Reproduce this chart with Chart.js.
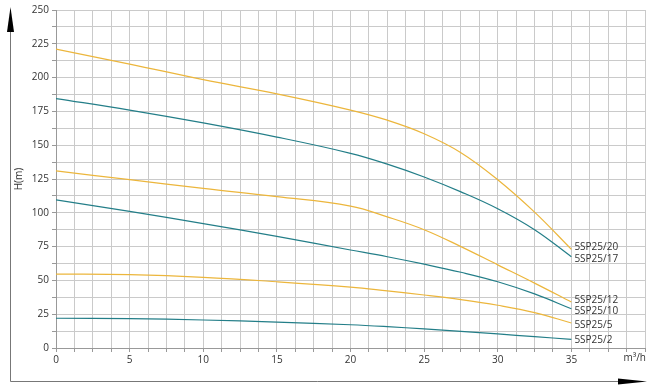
<!DOCTYPE html>
<html lang="en">
<head>
    <meta charset="UTF-8">
    <title>5SP25 pump curves</title>
    <style>
        body {
            margin: 0;
            padding: 0;
            background: #fff;
        }

        .container {
            width: 659px;
            height: 387px;
            position: relative;
        }
    </style>
</head>
<body>
    <div class="container">
        <canvas id="pumpChart" width="659" height="387"></canvas>
    </div>
    <script src="https://cdn.jsdelivr.net/npm/chart.js"></script>
    <script>
        // flow rate Q (m3/h)
        const flow = [0, 5, 10, 15, 20, 22.5, 25, 27.5, 30, 32.5, 35];

        // head H (m) for each model
        const head20 = [221, 210, 198.5, 188, 176, 168.5, 158.5, 144.5, 124.5, 100.5, 73];
        const head17 = [184.5, 176, 166.5, 156, 144, 136, 126.5, 115.5, 103, 87.5, 67.5];
        const head12 = [131, 124.5, 118, 112, 105, 97, 87.5, 75, 61.5, 48, 34];
        const head10 = [109.5, 101, 92, 82.5, 72.5, 67.5, 62, 56, 49, 40, 29];
        const head5 = [54.7, 54.2, 52.3, 49, 45, 42.2, 39.2, 35.8, 31.6, 26.2, 18.5];
        const head2 = [22, 21.7, 20.7, 19.2, 17.2, 15.8, 14.1, 12.3, 10.4, 8.4, 6.4];

        const models = ['5SP25/20', '5SP25/17', '5SP25/12', '5SP25/10', '5SP25/5', '5SP25/2'];
        const heads = [head20, head17, head12, head10, head5, head2];
        const labelNudge = [-2, 2, -2, 2, 2, 1];

        const yellow = '#ecb63c';
        const teal = '#237e88';

        const datasets = models.map((name, i) => ({
            label: name,
            data: flow.map((q, j) => ({ x: q, y: heads[i][j] })),
            borderColor: i % 2 === 0 ? yellow : teal,
            borderWidth: 1.2,
            pointRadius: 0,
            tension: 0.4,
            fill: false
        }));

        const extras = {
            id: 'extras',
            afterDatasetsDraw(chart) {
                const ctx = chart.ctx;
                const xs = chart.scales.x;
                const ys = chart.scales.y;
                ctx.save();
                ctx.font = '10px "Open Sans"';
                ctx.fillStyle = '#333';
                ctx.textBaseline = 'middle';
                ctx.textAlign = 'left';
                models.forEach((name, i) => {
                    const last = heads[i][heads[i].length - 1];
                    ctx.fillText(name, xs.getPixelForValue(35) + 3, ys.getPixelForValue(last) + labelNudge[i]);
                });
                ctx.textAlign = 'right';
                ctx.fillText('m³/h', xs.right + 1, ys.bottom + 10);

                // axis arrows
                ctx.strokeStyle = '#777';
                ctx.fillStyle = '#000';
                ctx.lineWidth = 1;
                ctx.beginPath();
                ctx.moveTo(10.5, 381.5);
                ctx.lineTo(10.5, 25);
                ctx.moveTo(10.5, 381.5);
                ctx.lineTo(625, 381.5);
                ctx.stroke();
                ctx.beginPath();
                ctx.moveTo(10.5, 7);
                ctx.lineTo(14, 32);
                ctx.lineTo(7, 32);
                ctx.closePath();
                ctx.fill();
                ctx.beginPath();
                ctx.moveTo(647, 381.5);
                ctx.lineTo(618, 378.5);
                ctx.lineTo(618, 384.5);
                ctx.closePath();
                ctx.fill();
                ctx.restore();
            }
        };

        new Chart(document.getElementById('pumpChart'), {
            type: 'line',
            data: { datasets },
            plugins: [extras],
            options: {
                responsive: false,
                animation: false,
                layout: { padding: { left: 0, top: 10, right: 14, bottom: 0 } },
                plugins: {
                    legend: { display: false },
                    tooltip: { enabled: false }
                },
                scales: {
                    x: {
                        type: 'linear',
                        min: 0,
                        max: 40,
                        afterFit(scale) { scale.height = 39; },
                        ticks: {
                            stepSize: 1.25,
                            autoSkip: false,
                            maxRotation: 0,
                            font: { family: 'Open Sans', size: 10 },
                            color: '#333',
                            padding: 2,
                            callback(v) {
                                if (v >= 40) return '';
                                return v % 5 === 0 ? v : '';
                            }
                        },
                        grid: { color: '#cacaca', tickLength: 4, tickColor: '#999' },
                        border: { color: '#999' }
                    },
                    y: {
                        min: 0,
                        max: 250,
                        afterFit(scale) { scale.width = 56; },
                        ticks: {
                            stepSize: 12.5,
                            autoSkip: false,
                            font: { family: 'Open Sans', size: 10 },
                            color: '#333',
                            padding: 3,
                            callback(v) {
                                return v % 25 === 0 ? v : '';
                            }
                        },
                        title: {
                            display: true,
                            text: 'H(m)',
                            font: { family: 'Open Sans', size: 10 },
                            color: '#333',
                            padding: { top: 13, bottom: 0 }
                        },
                        grid: { color: '#cacaca', tickLength: 4, tickColor: '#999' },
                        border: { color: '#999' }
                    }
                }
            }
        });
    </script>
</body>
</html>
